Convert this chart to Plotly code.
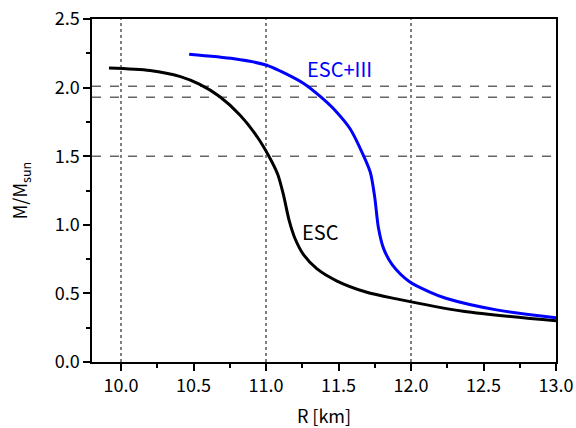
import plotly.graph_objects as go

esc_R = [9.917, 10.2, 10.41, 10.54, 10.68, 10.82, 10.94, 11.02, 11.08, 11.12, 11.16, 11.20, 11.26, 11.35, 11.49, 11.69, 11.90, 12.36, 13.0]
esc_M = [2.143, 2.125, 2.08, 2.025, 1.935, 1.80, 1.64, 1.50, 1.37, 1.22, 1.03, 0.90, 0.78, 0.68, 0.59, 0.51, 0.46, 0.37, 0.30]

esc3_R = [10.47, 10.78, 11.0, 11.1, 11.26, 11.38, 11.48, 11.58, 11.67, 11.72, 11.75, 11.775, 11.81, 11.87, 11.99, 12.13, 12.24, 12.59, 13.0]
esc3_M = [2.243, 2.21, 2.165, 2.12, 2.03, 1.93, 1.83, 1.70, 1.51, 1.38, 1.20, 0.98, 0.83, 0.71, 0.585, 0.51, 0.465, 0.38, 0.323]

hlines = [2.01, 1.93, 1.5]
vlines = [10.0, 11.0, 12.0]

FONT = "Noto Sans CJK JP"

fig = go.Figure()
for v in vlines:
    fig.add_vline(x=v, line=dict(color="black", width=1, dash="dot"), layer="below")
for h in hlines:
    fig.add_hline(y=h, line=dict(color="#666666", width=1.5, dash="dash"), layer="below")

fig.add_trace(go.Scatter(x=esc_R, y=esc_M, mode="lines", line=dict(color="black", width=3, shape="spline", smoothing=0.8), showlegend=False))
fig.add_trace(go.Scatter(x=esc3_R, y=esc3_M, mode="lines", line=dict(color="#0000ff", width=3, shape="spline", smoothing=0.8), showlegend=False))

fig.add_annotation(x=11.505, y=2.14, text="ESC+III", showarrow=False, font=dict(color="#0000ff", size=20, family=FONT))
fig.add_annotation(x=11.378, y=0.95, text="ESC", showarrow=False, font=dict(color="black", size=20, family=FONT))

axis_common = dict(showline=True, linecolor="black", linewidth=1.5, mirror=True, ticks="outside", ticklen=7, tickwidth=1.5,
                   tickcolor="black", showgrid=False, zeroline=False, automargin=False,
                   tickfont=dict(size=18, family=FONT, color="black"))
fig.update_xaxes(range=[9.8, 13.0], dtick=0.5, tickformat=".1f",
                 minor=dict(dtick=0.25, ticks="outside", ticklen=4, tickcolor="black", tickwidth=1.5),
                 title=dict(text="R [km]", font=dict(size=18, family=FONT, color="black"), standoff=14), **axis_common)
fig.update_yaxes(range=[0, 2.5], dtick=0.5, tickformat=".1f",
                 minor=dict(dtick=0.25, ticks="outside", ticklen=4, tickcolor="black", tickwidth=1.5),
                 title=dict(text="M/M<sub>sun</sub>", font=dict(size=18, family=FONT, color="black"), standoff=22), **axis_common)
fig.update_layout(width=576, height=428, margin=dict(l=92, r=20, t=19, b=66),
                  plot_bgcolor="white", paper_bgcolor="white")
fig.write_html("out.html")
